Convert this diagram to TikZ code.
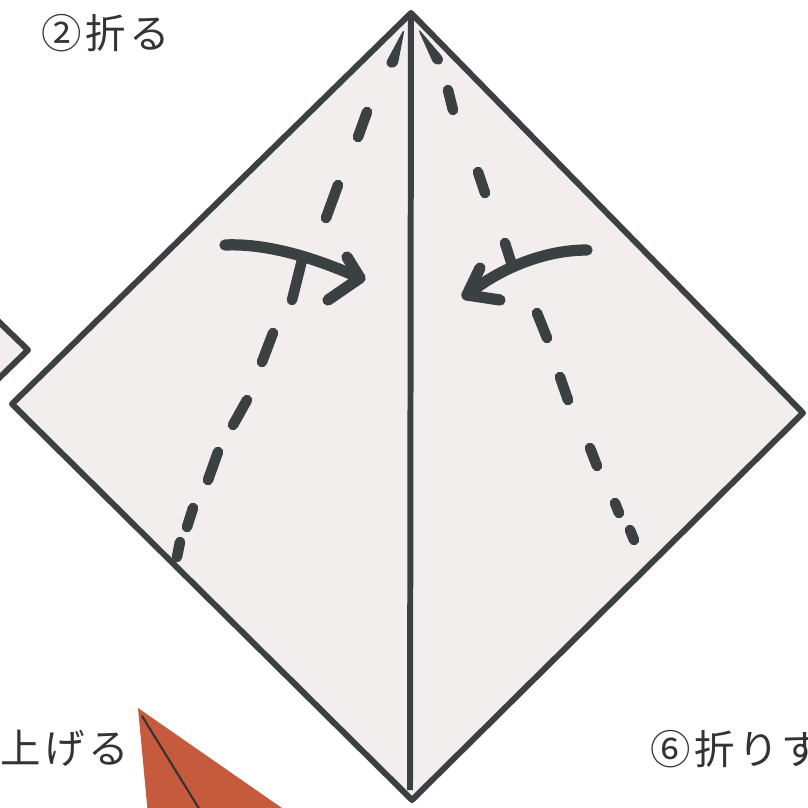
\documentclass[tikz,border=0pt]{standalone}
\usepackage{fontspec}
\newfontfamily\jfont{Noto Sans CJK JP}[LetterSpace=8]
\usetikzlibrary{arrows}
\definecolor{trait}{HTML}{3B4043}
\definecolor{papier}{HTML}{F1EEED}
\definecolor{brique}{HTML}{C65A3C}
\definecolor{encre}{HTML}{333333}

\begin{document}
\begin{tikzpicture}[x=0.01cm, y=-0.01cm,
		bord/.style={color=trait, line width=1.7pt, line join=round},
		tiret/.style={color=trait, line width=3pt, line cap=round},
		fleche/.style={color=trait, line width=3.2pt, line cap=round, line join=round},
		etiquette/.style={anchor=west, inner sep=0pt, text=encre, font=\jfont\fontsize{11.5}{12}\selectfont}]
				\clip (0,0) rectangle (808,808);
				\fill[white] (0,0) rectangle (808,808);
				% sommets du carré
				\coordinate (H) at (411,13);
				\coordinate (G) at (12,404);
				\coordinate (D) at (803,413);
				\coordinate (B) at (412,800);
				\coordinate (M) at (410,790);
				\coordinate (V) at (28,350);
				% carré voisin
				\filldraw[bord, fill=papier] (-5,318) -- (V) -- (-5,382);
				% morceau orange
				\fill[brique] (138,708) -- (292,815) -- (148,815) -- cycle;
				\draw[encre, line width=0.6pt] (142,716) -- (203,815);
				% le carré
				\filldraw[bord, fill=papier] (H) -- (D) -- (B) -- (G) -- cycle;
				\draw[bord] (H) -- (M);
				% plis en tirets
				\fill[trait, rounded corners=2pt] (405,27) -- (397,69) -- (384,66) -- cycle;
				\fill[trait, rounded corners=2pt] (417,27) -- (446,61) -- (435,67) -- cycle;
				\foreach \xa/\ya/\xb/\yb in {367/112/358/137, 338/185/326/218, 302/260/292/300, 273/333/262/362,
						247/400/233/425, 218/452/208/480, 193/508/187/527, 180/542/177/557}
					\draw[tiret] (\xa,\ya) -- (\xb,\yb);
				\foreach \xa/\ya/\xb/\yb in {448/90/453/110, 478/172/485/193, 505/243/511/262, 537/313/547/338,
						560/377/568/400, 590/448/597/466, 615/503/619/513, 630/530/634/540}
					\draw[tiret] (\xa,\ya) -- (\xb,\yb);
				% flèches
				\coordinate (pg) at (360,278);
				\coordinate (pd) at (467,295);
				\draw[fleche] (225,245) .. controls (270,243) and (320,260) .. (pg);
				\draw[fleche] (347,257) -- (pg) -- (328,300);
				\draw[fleche] (587,250) .. controls (545,250) and (500,268) .. (pd);
				\draw[fleche] (480,268) -- (pd) -- (500,300);
				% textes
				\node[etiquette] (e2) at (41,33) {②折る};
				\node[etiquette] (e5) at (0,748) {上げる};
				\node[etiquette] (e6) at (650,749) {⑥折りす};
\end{tikzpicture}
\end{document}
